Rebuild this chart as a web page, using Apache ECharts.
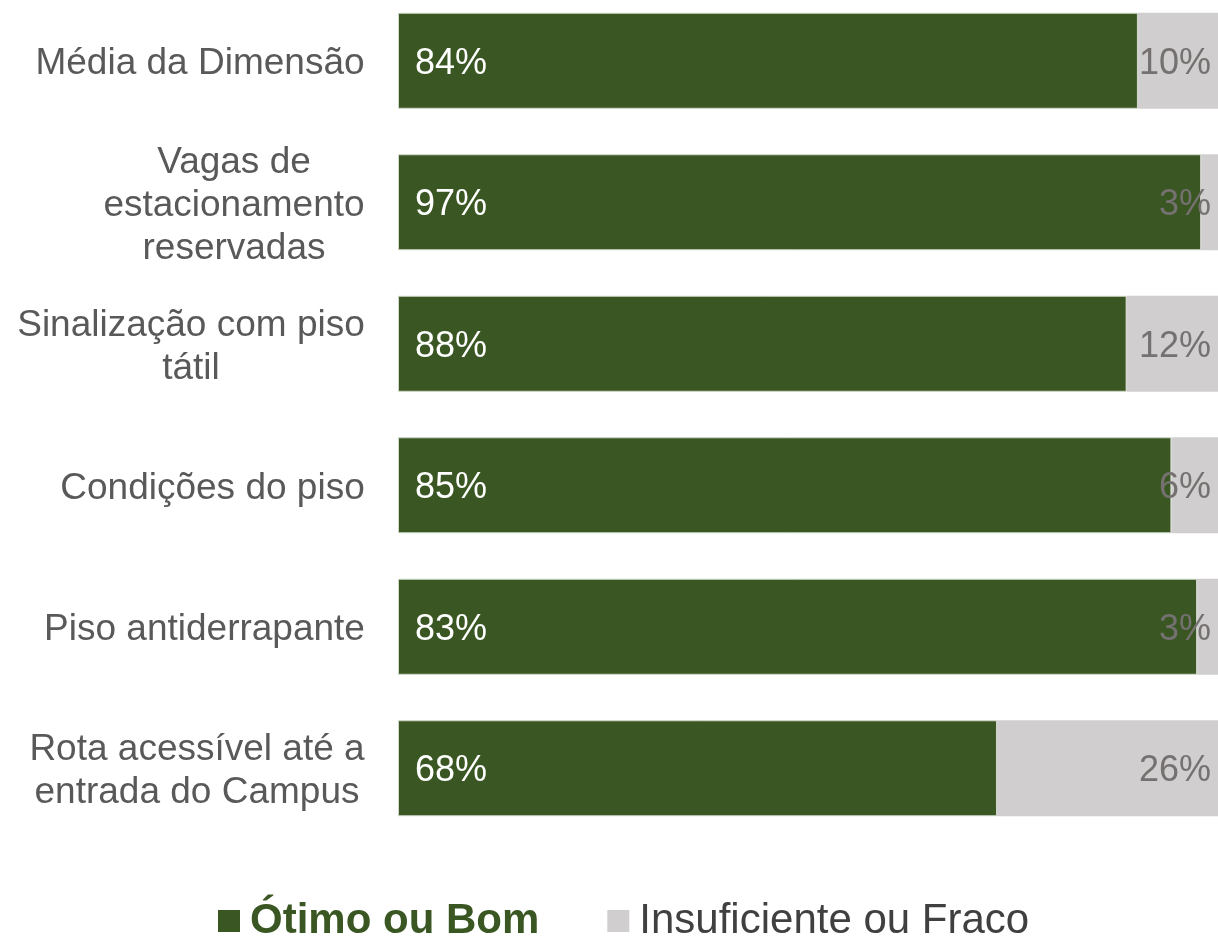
<!DOCTYPE html>
<html>
<head>
<meta charset="utf-8">
<script src="https://cdn.jsdelivr.net/npm/echarts@6/dist/echarts.min.js"></script>
<style>
	html, body { margin: 0; padding: 0; background: #ffffff; overflow: hidden; }
	/* the plot runs a little past the top and right edges of the page */
	#chart { width: 1226px; height: 947px; margin-top: -10px; }
</style>
</head>
<body>
<div id="chart"></div>
<script>
// categories, top to bottom
var categories = [
	'Média da Dimensão',
	'Vagas de\nestacionamento\nreservadas',
	'Sinalização com piso\ntátil',
	'Condições do piso',
	'Piso antiderrapante',
	'Rota acessível até a\nentrada do Campus'
];
var seriesNames = ['Ótimo ou Bom', 'Insuficiente ou Fraco'];
var otimoBom = [84, 97, 88, 85, 83, 68];
var insuficiente = [10, 3, 12, 6, 3, 26];

var GREEN = '#3a5723';
var GREY = '#d0cece';
var FONT = '"Liberation Sans", Arial, sans-serif';

// 100% stacked: each row is scaled to its own total
var share = function(arr) {
	return arr.map(function(v, i) {
		return { value: v / (otimoBom[i] + insuficiente[i]) * 100, raw: v };
	});
};

// multi-line labels are centred on their widest line, block right-aligned
var ctx = document.createElement('canvas').getContext('2d');
ctx.font = '37px ' + FONT;
var rich = {};
categories.forEach(function(c, i) {
	var w = 0;
	c.split('\n').forEach(function(l) {
		w = Math.max(w, ctx.measureText(l).width);
	});
	rich['c' + i] = {
		width: Math.ceil(w),
		align: 'center',
		fontSize: 37,
		lineHeight: 43,
		fontFamily: FONT,
		color: '#595959'
	};
});

var myChart = echarts.init(document.getElementById('chart'));

var option = {
	animation: false,
	grid: {
		left: 398,
		right: 0,
		top: 0,
		bottom: 98,
		containLabel: false
	},
	xAxis: {
		type: 'value',
		min: 0,
		max: 100,
		show: false
	},
	yAxis: {
		type: 'category',
		inverse: true,
		data: categories,
		axisLine: { show: false },
		axisTick: { show: false },
		axisLabel: {
			margin: 33,
			align: 'right',
			padding: [7, 0, 0, 0],
			formatter: function(value, idx) {
				return value.split('\n').map(function(l) {
					return '{c' + idx + '|' + l + '}';
				}).join('\n');
			},
			rich: rich
		}
	},
	legend: {
		left: 213,
		top: 904,
		itemWidth: 22,
		itemHeight: 22,
		itemGap: 68,
		icon: 'rect',
		itemStyle: { borderWidth: 0 },
		data: [
			{ name: seriesNames[0], textStyle: { color: GREEN, fontWeight: 'bold' } },
			{ name: seriesNames[1], textStyle: { color: '#404040', fontWeight: 'normal' } }
		],
		textStyle: {
			fontSize: 42,
			fontFamily: FONT,
			lineHeight: 44,
			padding: [0, 0, 0, 5]
		}
	},
	series: [
		{
			name: seriesNames[0],
			type: 'bar',
			stack: 'total',
			barWidth: 96,
			itemStyle: { color: GREEN, borderColor: '#cfd6c8', borderWidth: 1 },
			label: {
				show: true,
				position: 'insideLeft',
				distance: 17,
				offset: [0, 3],
				color: '#ffffff',
				fontSize: 36,
				fontFamily: FONT,
				formatter: function(p) { return p.data.raw + '%'; }
			},
			data: share(otimoBom)
		},
		{
			name: seriesNames[1],
			type: 'bar',
			stack: 'total',
			barWidth: 96,
			itemStyle: { color: GREY },
			label: {
				show: true,
				position: 'insideRight',
				distance: 15,
				offset: [0, 3],
				color: '#767171',
				fontSize: 36,
				fontFamily: FONT,
				formatter: function(p) { return p.data.raw + '%'; }
			},
			data: share(insuficiente)
		}
	]
};

myChart.setOption(option);
</script>
</body>
</html>
